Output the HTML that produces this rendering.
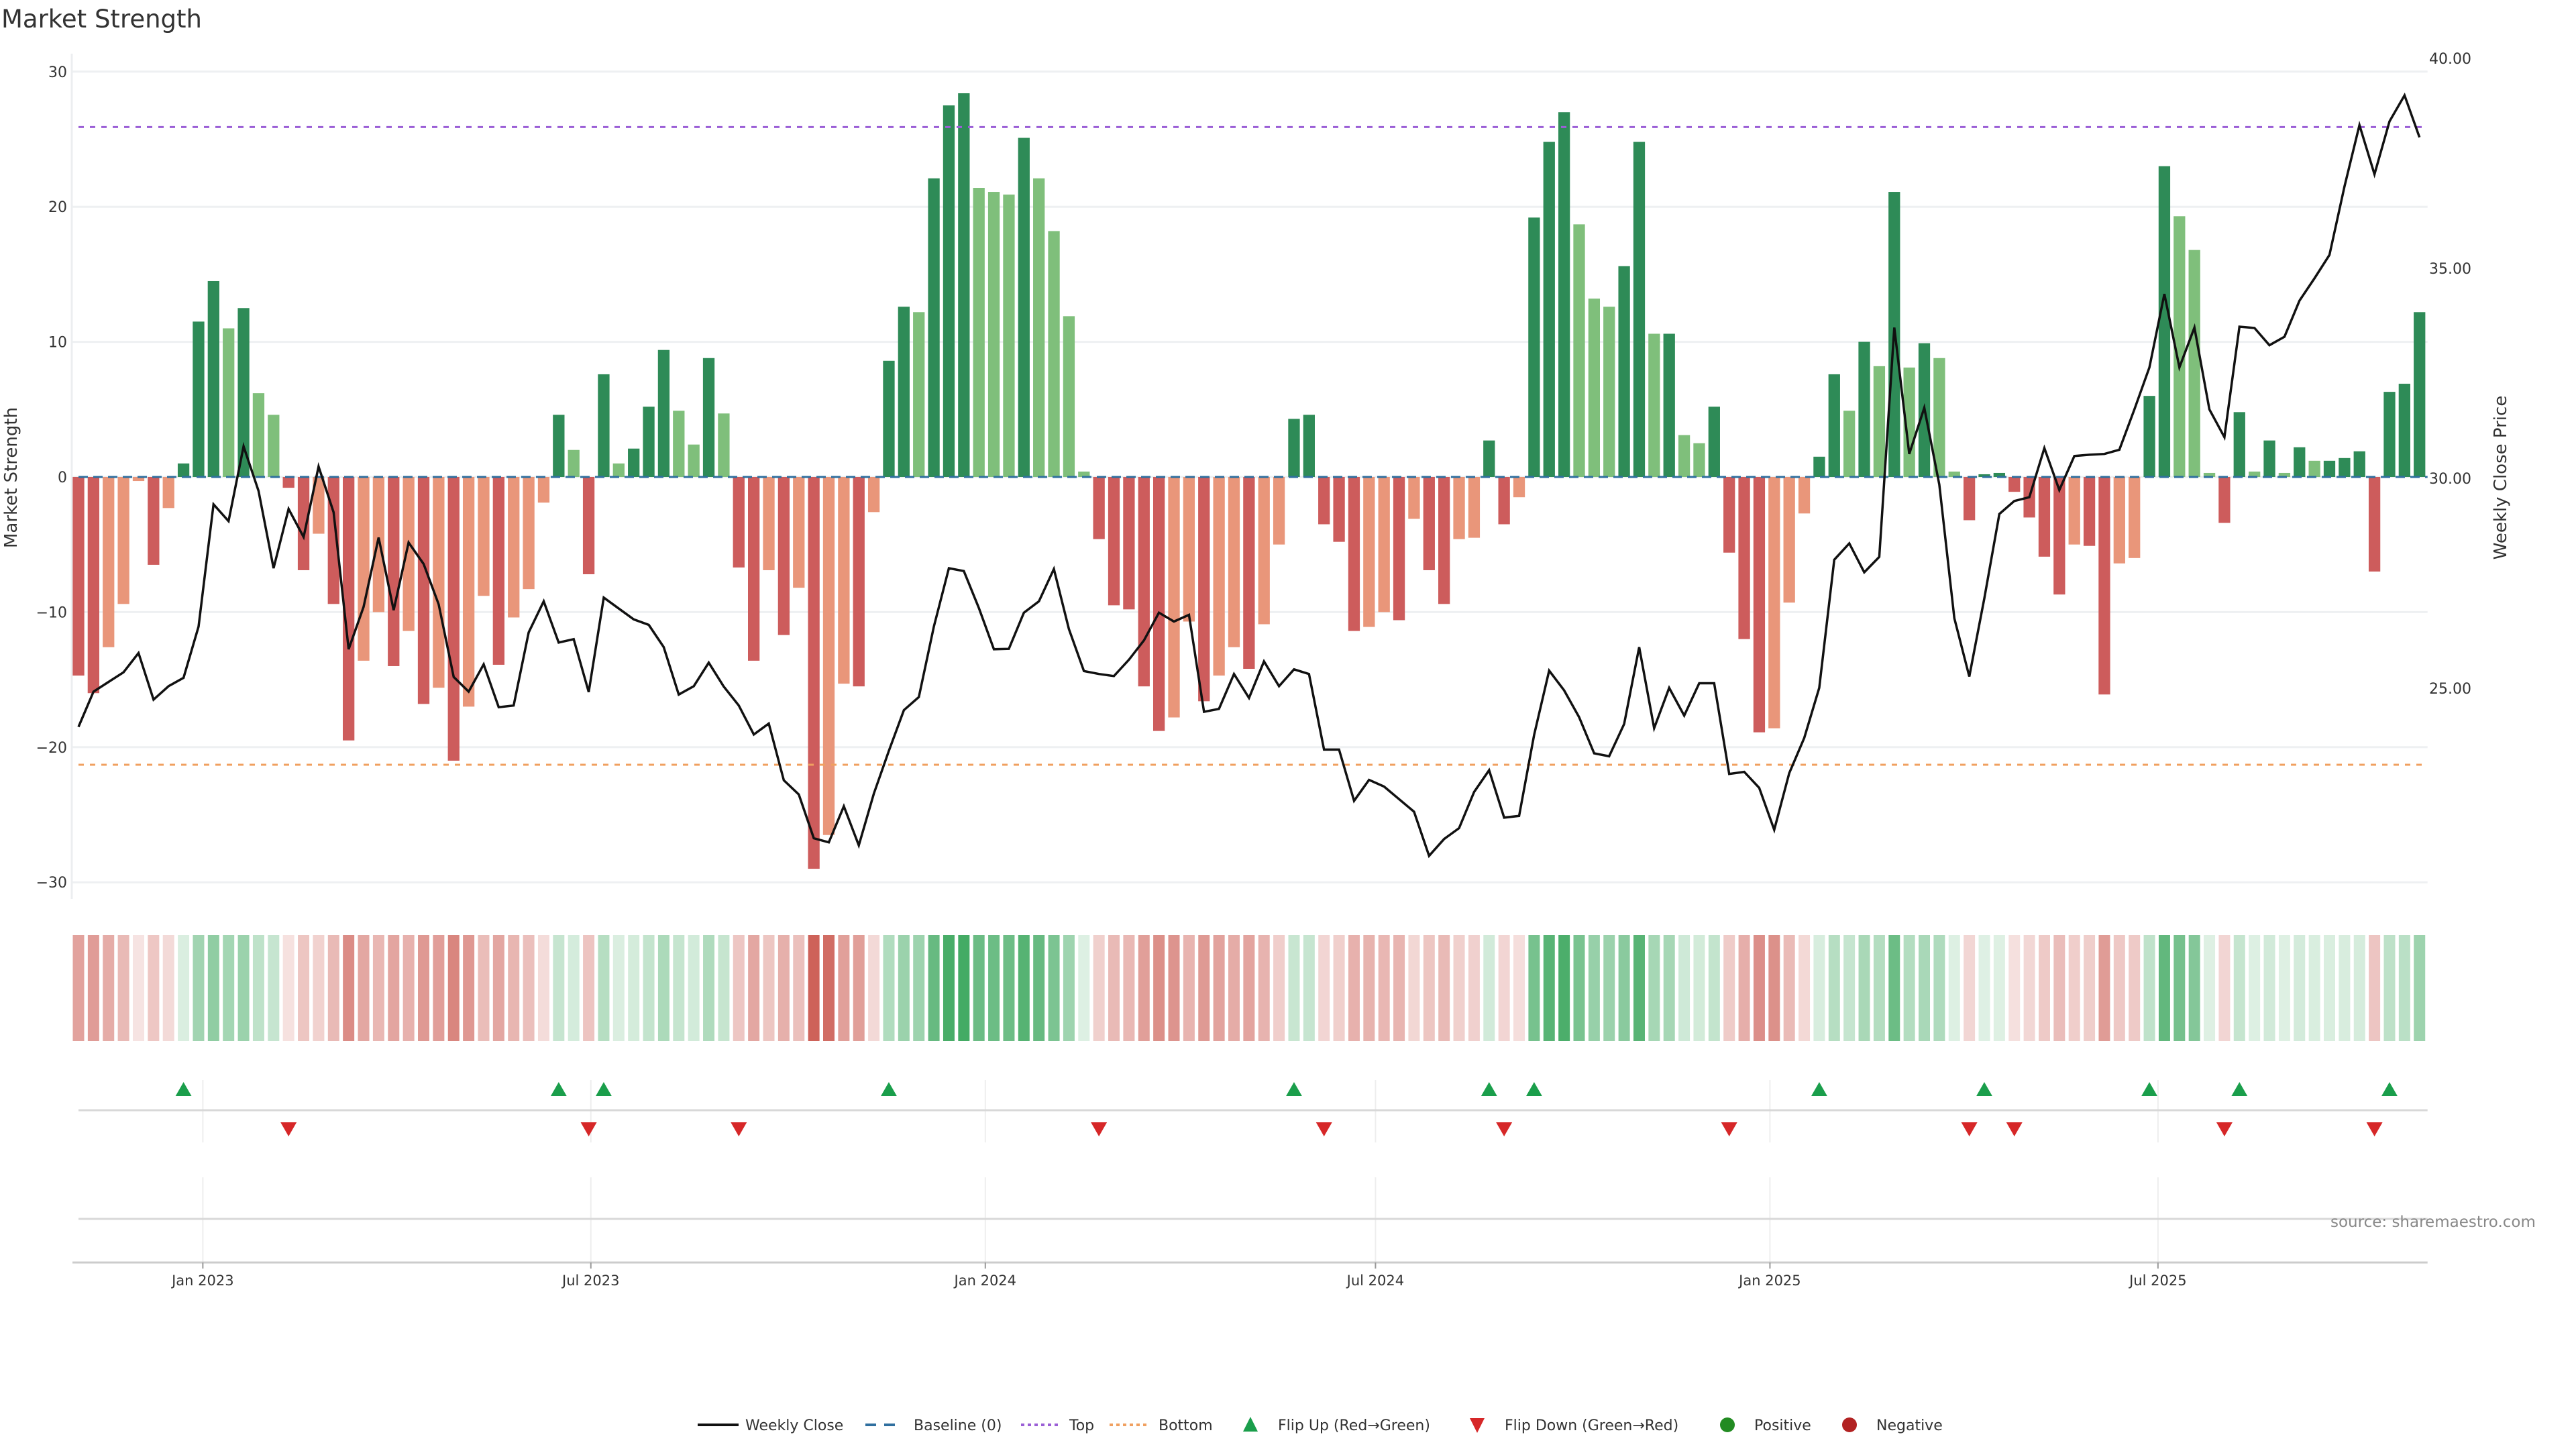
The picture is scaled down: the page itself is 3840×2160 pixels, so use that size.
<!DOCTYPE html>
<html><head><meta charset="utf-8"><title>Market Strength</title>
<style>
html,body{margin:0;padding:0;background:#fff;}
svg{display:block;font-family:"DejaVu Sans","Liberation Sans",sans-serif;}
</style></head>
<body>
<svg id="chart" width="3840" height="2160" viewBox="0 0 3840 2160" xmlns="http://www.w3.org/2000/svg">
<rect width="3840" height="2160" fill="#fff"/>
<text x="2" y="41" font-size="37" fill="#333">Market Strength</text>
<g id="grid"></g>
<g id="bars"></g>
<g id="lines"></g>
<g id="price"></g>
<g id="axes"></g>
<g id="heat"></g>
<g id="flips"></g>
<g id="legend"></g>
<text x="3474" y="1829" font-size="23" fill="#888">source: sharemaestro.com</text>
</svg>
<script>
const strength = [-14.7,-16,-12.6,-9.4,-0.3,-6.5,-2.3,1,11.5,14.5,11,12.5,6.2,4.6,-0.8,-6.9,-4.2,-9.4,-19.5,-13.6,-10,-14,-11.4,-16.8,-15.6,-21,-17,-8.8,-13.9,-10.4,-8.3,-1.9,4.6,2,-7.2,7.6,1,2.1,5.2,9.4,4.9,2.4,8.8,4.7,-6.7,-13.6,-6.9,-11.7,-8.2,-29,-26.5,-15.3,-15.5,-2.6,8.6,12.6,12.2,22.1,27.5,28.4,21.4,21.1,20.9,25.1,22.1,18.2,11.9,0.4,-4.6,-9.5,-9.8,-15.5,-18.8,-17.8,-10.7,-16.6,-14.7,-12.6,-14.2,-10.9,-5,4.3,4.6,-3.5,-4.8,-11.4,-11.1,-10,-10.6,-3.1,-6.9,-9.4,-4.6,-4.5,2.7,-3.5,-1.5,19.2,24.8,27,18.7,13.2,12.6,15.6,24.8,10.6,10.6,3.1,2.5,5.2,-5.6,-12,-18.9,-18.6,-9.3,-2.7,1.5,7.6,4.9,10,8.2,21.1,8.1,9.9,8.8,0.4,-3.2,0.2,0.3,-1.1,-3,-5.9,-8.7,-5,-5.1,-16.1,-6.4,-6,6,23,19.3,16.8,0.3,-3.4,4.8,0.4,2.7,0.3,2.2,1.2,1.2,1.4,1.9,-7,6.3,6.9,12.2];
const closes = [24.08,24.92,25.15,25.38,25.84,24.73,25.05,25.25,26.47,29.38,28.98,30.76,29.7,27.86,29.27,28.6,30.28,29.19,25.93,26.94,28.59,26.86,28.47,27.96,27.0,25.27,24.92,25.57,24.55,24.59,26.33,27.07,26.09,26.17,24.91,27.16,26.9,26.64,26.51,25.98,24.85,25.05,25.61,25.04,24.59,23.9,24.16,22.81,22.47,21.43,21.33,22.19,21.26,22.49,23.51,24.48,24.79,26.47,27.86,27.79,26.91,25.93,25.94,26.8,27.07,27.84,26.41,25.41,25.34,25.29,25.68,26.14,26.8,26.59,26.75,24.44,24.51,25.34,24.77,25.64,25.05,25.45,25.34,23.54,23.54,22.32,22.82,22.66,22.36,22.06,21.01,21.41,21.67,22.53,23.05,21.92,21.96,23.89,25.42,24.95,24.31,23.45,23.38,24.15,25.98,24.05,25.01,24.35,25.12,25.12,22.96,23.01,22.63,21.63,22.98,23.82,25.01,28.06,28.45,27.76,28.13,33.59,30.58,31.68,29.85,26.67,25.28,27.14,29.15,29.46,29.55,30.72,29.72,30.53,30.56,30.58,30.68,31.64,32.64,34.39,32.64,33.59,31.64,30.98,33.61,33.58,33.17,33.37,34.23,34.76,35.32,36.95,38.41,37.24,38.5,39.12,38.12];
const leftTicks = [30,20,10,0,-10,-20,-30];
const leftTickLabels = ["30","20","10","0","\u221210","\u221220","\u221230"];
const rightTicks = [40,35,30,25];
const rightTickLabels = ["40.00","35.00","30.00","25.00"];
const dateTicks = ["2023-01-01","2023-07-01","2024-01-01","2024-07-01","2025-01-01","2025-07-01"];
const dateTickLabels = ["Jan 2023","Jul 2023","Jan 2024","Jul 2024","Jan 2025","Jul 2025"];
const topLevel = [25.9];
const bottomLevel = [-21.3];
const startDate = "2022-11-04";

const NS = "http://www.w3.org/2000/svg";
const X0 = 117, STEP = 22.37, BW = 17.3;
function xIdx(i){ return X0 + STEP*i; }
function xDate(d){ const days=(Date.parse(d)-Date.parse(startDate))/86400000; return X0 + STEP*days/7; }
function yL(v){ return 711 - v*20.14; }
function yR(p){ return 713 - (p-30)*62.6; }
const xEnd = xIdx(strength.length-1) + 12;
function mk(tag, attrs, parent){ const e=document.createElementNS(NS,tag); for(const k in attrs) e.setAttribute(k,attrs[k]); parent.appendChild(e); return e; }
const G = id=>document.getElementById(id);

leftTicks.forEach((t,k)=>{
  const l=mk('line',{x1:108,x2:xEnd,y1:yL(t),y2:yL(t),stroke:'#eef0f2','stroke-width':3},G('grid'));
  
  
});
const sp=mk('line',{x1:107,x2:107,y1:80,y2:1340,stroke:'#eceef0','stroke-width':3},G('grid'));



strength.forEach((v,i)=>{
  const prev = i>0?strength[i-1]:0;
  let c;
  if(v>=0) c = v>=prev ? '#2e8b57' : '#7fbf7b';
  else c = v<=prev ? '#cd5c5c' : '#e9967a';
  const y0=yL(0), y1=yL(v);
  const r=mk('rect',{x:xIdx(i)-BW/2,y:Math.min(y0,y1),width:BW,height:Math.max(1,Math.abs(y1-y0)),fill:c},G('bars'));
  
  
});

const bl=mk('line',{x1:117,x2:xEnd,y1:yL(0),y2:yL(0),stroke:'#2f6f9f','stroke-width':3,'stroke-dasharray':'14 8'},G('lines'));


const tl=mk('line',{x1:117,x2:xEnd,y1:yL(topLevel[0]),y2:yL(topLevel[0]),stroke:'#9b5fd6','stroke-width':3,'stroke-dasharray':'8 9'},G('lines'));


const bt=mk('line',{x1:117,x2:xEnd,y1:yL(bottomLevel[0]),y2:yL(bottomLevel[0]),stroke:'#f0a060','stroke-width':3,'stroke-dasharray':'8 9'},G('lines'));



const pts = closes.map((p,i)=>xIdx(i).toFixed(1)+','+yR(p).toFixed(1)).join(' ');
const pl=mk('polyline',{points:pts,fill:'none',stroke:'#111','stroke-width':3.5,'stroke-linejoin':'miter'},G('price'));



leftTicks.forEach((t,k)=>{
  const tx=mk('text',{x:100,y:yL(t)+8,'font-size':22,fill:'#333','text-anchor':'end'},G('axes'));
  tx.textContent=leftTickLabels[k];
  
  
});
rightTicks.forEach((t,k)=>{
  const tx=mk('text',{x:3621,y:yR(t)+8,'font-size':22,fill:'#333'},G('axes'));
  tx.textContent=rightTickLabels[k];
  
  
});
const ly=mk('text',{x:0,y:0,'font-size':26,fill:'#333','text-anchor':'middle',transform:'translate(25,712) rotate(-90)'},G('axes'));
ly.textContent='Market Strength';


const ry=mk('text',{x:0,y:0,'font-size':26,fill:'#333','text-anchor':'middle',transform:'translate(3736,712) rotate(-90)'},G('axes'));
ry.textContent='Weekly Close Price';



strength.forEach((v,i)=>{
  const a = 0.15 + 0.75*Math.min(Math.abs(v)/29,1);
  const base = v>=0 ? [44,160,80] : [200,80,70];
  const col = 'rgb('+base.map(c=>Math.round(255-(255-c)*a)).join(',')+')';
  const r=mk('rect',{x:xIdx(i)-8.5,y:1394,width:17,height:158,fill:col},G('heat'));
  
  
});

const fl=mk('line',{x1:117,x2:xEnd,y1:1655,y2:1655,stroke:'#d8d8d8','stroke-width':3},G('flips'));


const lpl=mk('line',{x1:117,x2:xEnd,y1:1817,y2:1817,stroke:'#d8d8d8','stroke-width':3},G('flips'));


const ax=mk('line',{x1:108,x2:xEnd,y1:1882,y2:1882,stroke:'#ccc','stroke-width':3},G('axes'));


dateTicks.forEach((d,k)=>{
  const x=xDate(d);
  const g1=mk('line',{x1:x,x2:x,y1:1610,y2:1703,stroke:'#eee','stroke-width':2},G('grid'));
  
  
  const g2=mk('line',{x1:x,x2:x,y1:1755,y2:1882,stroke:'#eee','stroke-width':2},G('grid'));
  
  
  const tk=mk('line',{x1:x,x2:x,y1:1882,y2:1891,stroke:'#999','stroke-width':2},G('axes'));
  
  
  const tx=mk('text',{x:x,y:1916,'font-size':21,fill:'#333','text-anchor':'middle'},G('axes'));
  tx.textContent=dateTickLabels[k];
  
  
});
for(let i=1;i<strength.length;i++){
  const x=xIdx(i);
  if(strength[i-1]<0 && strength[i]>=0){
    const t=mk('polygon',{points:(x-12)+',1634 '+(x+12)+',1634 '+x+',1613',fill:'#1a9e4b'},G('flips'));
    
    
  } else if(strength[i-1]>=0 && strength[i]<0){
    const t=mk('polygon',{points:(x-12)+',1673 '+(x+12)+',1673 '+x+',1694',fill:'#d62728'},G('flips'));
    
    
  }
}

const L=G('legend'); const ly0=2124, fy=2132;
function ltext(x,s,name){ const t=mk('text',{x:x,y:fy,'font-size':22,fill:'#333'},L); t.textContent=s;   }
function sw(el,name){   }
sw(mk('line',{x1:1040,x2:1101,y1:ly0,y2:ly0,stroke:'#111','stroke-width':4},L),'legend-weekly-close-swatch');
ltext(1111,'Weekly Close','legend-weekly-close');
sw(mk('line',{x1:1290,x2:1344,y1:ly0,y2:ly0,stroke:'#2f6f9f','stroke-width':4,'stroke-dasharray':'16 12'},L),'legend-baseline-swatch');
ltext(1362,'Baseline (0)','legend-baseline');
sw(mk('line',{x1:1522,x2:1580,y1:ly0,y2:ly0,stroke:'#9b5fd6','stroke-width':4,'stroke-dasharray':'5 5'},L),'legend-top-swatch');
ltext(1594,'Top','legend-top');
sw(mk('line',{x1:1654,x2:1712,y1:ly0,y2:ly0,stroke:'#f0a060','stroke-width':4,'stroke-dasharray':'5 5'},L),'legend-bottom-swatch');
ltext(1727,'Bottom','legend-bottom');
sw(mk('polygon',{points:'1853,2134 1875,2134 1864,2112',fill:'#1a9e4b'},L),'legend-flip-up-swatch');
ltext(1905,'Flip Up (Red\u2192Green)','legend-flip-up');
sw(mk('polygon',{points:'2191,2114 2213,2114 2202,2136',fill:'#d62728'},L),'legend-flip-down-swatch');
ltext(2243,'Flip Down (Green\u2192Red)','legend-flip-down');
sw(mk('circle',{cx:2575,cy:ly0,r:11,fill:'#228b22'},L),'legend-positive-swatch');
ltext(2615,'Positive','legend-positive');
sw(mk('circle',{cx:2757,cy:ly0,r:11,fill:'#b22222'},L),'legend-negative-swatch');
ltext(2797,'Negative','legend-negative');
</script>
</body></html>
